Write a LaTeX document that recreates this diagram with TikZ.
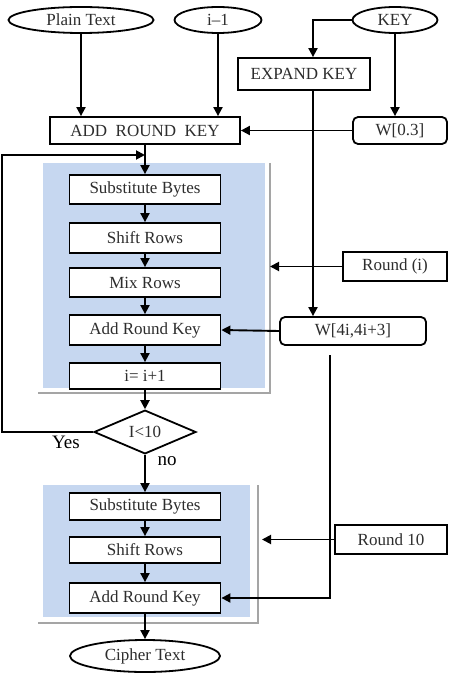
\documentclass[tikz,border=0pt]{standalone}
\usepackage{fontspec}
\setmainfont{Liberation Serif}
\usetikzlibrary{shapes.geometric,arrows.meta}
\definecolor{panelblue}{RGB}{198,215,240}
\definecolor{shadowgray}{RGB}{165,165,165}
\definecolor{txtgray}{RGB}{45,45,45}
\tikzset{
  base/.style={draw=black, line width=1.8pt, fill=white, inner sep=0pt, text=txtgray, font=\fontsize{17}{20}\selectfont},
  stagebox/.style={base, rectangle, minimum width=151pt},
  oval/.style={base, ellipse, minimum height=26pt},
  keybox/.style={base, rectangle, rounded corners=5pt},
  plainbox/.style={base, rectangle},
  decision/.style={base, diamond, minimum width=102pt, minimum height=39pt},
  arr/.style={draw=black, line width=1.9pt, -{Triangle[length=9pt,width=9pt]}},
  lbl/.style={text=black, font=\fontsize{19}{22}\selectfont, inner sep=0pt}
}
\begin{document}
\begin{tikzpicture}[x=1pt,y=-1pt]
\path[use as bounding box] (0,0) rectangle (455,676);
% panels
\fill[panelblue] (43,163) rectangle (265,388);
\draw[shadowgray, line width=2pt] (270,163) -- (270,393) -- (38,393);
\fill[panelblue] (43,485) rectangle (250,617);
\draw[shadowgray, line width=2pt] (258,485) -- (258,623) -- (38,623);
% top nodes
\node[oval, minimum width=145pt] (plain) at (81,20) {Plain Text};
\node[oval, minimum width=87pt] (ione) at (218,20) {i–1};
\node[oval, minimum width=85pt] (key) at (395,20) {KEY};
\node[plainbox, minimum width=132pt, minimum height=32pt] (expand) at (304,74) {EXPAND KEY};
\node[plainbox, minimum width=190pt, minimum height=27pt] (ark) at (145,130.5) {ADD\ \ ROUND\ \ KEY};
\node[keybox, minimum width=94pt, minimum height=27pt] (w03) at (400,130.5) {W[0.3]};
% round loop
\node[stagebox, minimum height=29pt] (sb1) at (145,189.5) {Substitute Bytes};
\node[stagebox, minimum height=30pt] (sr1) at (145,238) {Shift Rows};
\node[stagebox, minimum height=29pt] (mr1) at (145,282.5) {Mix Rows};
\node[stagebox, minimum height=30pt] (ark1) at (145,330) {Add Round Key};
\node[stagebox, minimum height=26pt] (inc) at (145,376) {i= i+1};
\node[plainbox, minimum width=104pt, minimum height=29pt] (ri) at (395,266.5) {Round (i)};
\node[keybox, minimum width=146pt, minimum height=28pt] (w4) at (353,331) {W[4i,4i+3]};
\node[decision] (dia) at (145,432) {I<10};
% final round
\node[stagebox, minimum height=27pt] (sb2) at (145,506.5) {Substitute Bytes};
\node[stagebox, minimum height=26pt] (sr2) at (145,550) {Shift Rows};
\node[stagebox, minimum height=30pt] (ark2) at (145,598) {Add Round Key};
\node[plainbox, minimum width=112pt, minimum height=29pt] (r10) at (391,539.5) {Round 10};
\node[oval, minimum width=150pt, minimum height=32pt] (cipher) at (145,656) {Cipher Text};
% labels
\node[lbl] (yes) at (66,442) {Yes};
\node[lbl] (no) at (167,461) {no};
% helper coordinates
\coordinate (ex) at (313,0);
\coordinate (lp) at (2,0);
\coordinate (join) at (145,155);
\coordinate (p1e) at (270,0);
\coordinate (p2e) at (262,0);
\coordinate (wd) at (330,355);
% connectors
\draw[arr] (plain.south) -- (plain.south |- ark.north);
\draw[arr] (ione.south) -- (ione.south |- ark.north);
\draw[arr] (key.west) -| (ex |- expand.north);
\draw[arr] (key.south) -- (key.south |- w03.north);
\draw[arr] (w03.west) -- (ark.east);
\draw[arr] (ex |- expand.south) -- (ex |- w4.north);
\draw[arr] (ark.south) -- (sb1.north);
\draw[arr] (sb1.south) -- (sr1.north);
\draw[arr] (sr1.south) -- (mr1.north);
\draw[arr] (mr1.south) -- (ark1.north);
\draw[arr] (ark1.south) -- (inc.north);
\draw[arr] (inc.south) -- (dia.north);
\draw[arr] (dia.west) -| (lp |- join) -- (join);
\draw[arr] (ri.west) -- (p1e |- ri.west);
\draw[arr] (w4.west) -- (ark1.east);
\draw[arr] (wd) |- (ark2.east);
\draw[arr] (dia.south) -- (sb2.north);
\draw[arr] (sb2.south) -- (sr2.north);
\draw[arr] (sr2.south) -- (ark2.north);
\draw[arr] (ark2.south) -- (cipher.north);
\draw[arr] (r10.west) -- (p2e |- r10.west);
\end{tikzpicture}
\end{document}
